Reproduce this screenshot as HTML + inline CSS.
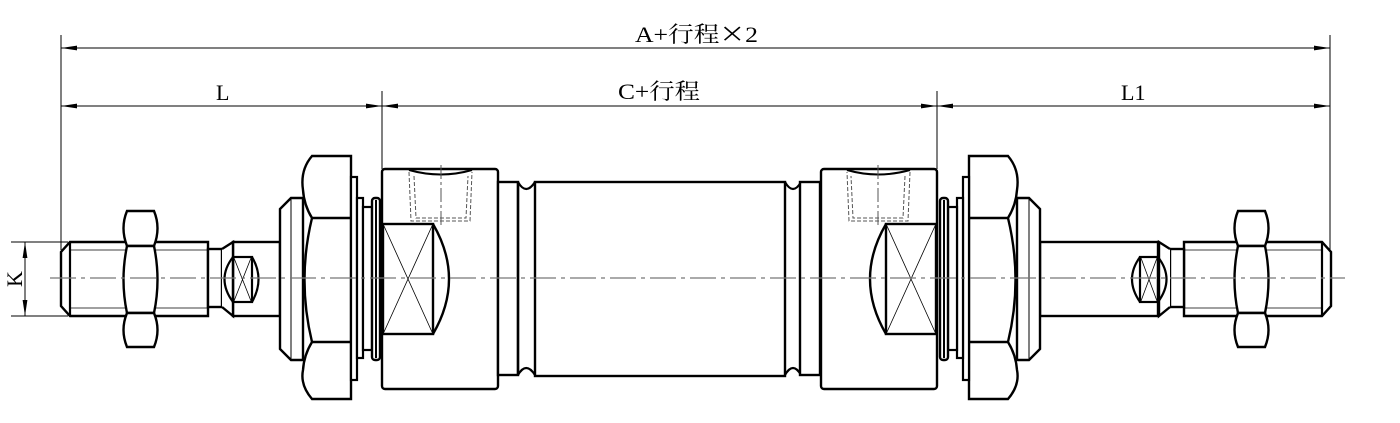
<!DOCTYPE html>
<html><head><meta charset="utf-8"><style>html,body{margin:0;padding:0;background:#fff}svg{display:block}</style></head>
<body>
<svg width="1400" height="423" viewBox="0 0 1400 423" xmlns="http://www.w3.org/2000/svg">
<defs>
<marker id="a" viewBox="0 0 16 6" refX="16" refY="3" markerWidth="16" markerHeight="6" markerUnits="userSpaceOnUse" orient="auto-start-reverse"><path d="M0,0.6 L16,3 L0,5.4Z" fill="#000"/></marker>
<g id="mount">
 <path d="M291,198 L303,198 L303,360 L291,360 L280,349 L280,209 Z" fill="#fff" stroke="#000" stroke-width="2.4"/>
 <line x1="291" y1="198" x2="291" y2="360" stroke="#000" stroke-width="1"/>
 <path d="M312,156 L351,156 L351,399 L312,399 Q300,385 303,370 Q304,355 312,342 Q297,280 312,218 Q304,205 303,190 Q300,170 312,156 Z" fill="#fff" stroke="#000" stroke-width="2.4"/>
 <line x1="312" y1="218" x2="351" y2="218" stroke="#000" stroke-width="2.4"/>
 <line x1="312" y1="342" x2="351" y2="342" stroke="#000" stroke-width="2.4"/>
 <rect x="351" y="177" width="6" height="203" fill="#fff" stroke="#000" stroke-width="2.2"/>
 <rect x="357" y="198" width="6" height="160" fill="#fff" stroke="#000" stroke-width="2.2"/>
 <rect x="363" y="207" width="9" height="143" fill="#fff" stroke="#000" stroke-width="2.2"/>
 <rect x="372" y="198" width="8" height="162" rx="3" fill="#fff" stroke="#000" stroke-width="2.4"/>
 <line x1="376" y1="200" x2="376" y2="358" stroke="#000" stroke-width="2"/>
</g>
<g id="cap">
 <rect x="382" y="169" width="116" height="220" rx="3" fill="#fff" stroke="#000" stroke-width="2.4"/>
 <path d="M409,170 Q441,179 472,170" fill="none" stroke="#000" stroke-width="2"/>
 <path d="M409,172 L411,221 L470,221 L472,172 M414,176 L416,218 L466,218 L468,176" fill="none" stroke="#555" stroke-width="1" stroke-dasharray="4,2"/>
 <line x1="441" y1="165" x2="441" y2="225" stroke="#555" stroke-width="1" stroke-dasharray="14,3,3,3"/>
 <rect x="383" y="224" width="50" height="110" fill="none" stroke="#000" stroke-width="2.4"/>
 <path d="M433,224 Q465,279 433,334" fill="none" stroke="#000" stroke-width="2.4"/>
 <path d="M384,226 L432,332 M432,226 L384,332" stroke="#000" stroke-width="0.8"/>
</g>
<g id="tip">
 <path d="M70,242 L208,242 L208,316 L70,316 L61,306 L61,252 Z" fill="#fff" stroke="#000" stroke-width="2.4"/>
 <line x1="70" y1="242" x2="70" y2="316" stroke="#000" stroke-width="2.2"/>
 <line x1="70" y1="250" x2="208" y2="250" stroke="#000" stroke-width="0.8"/>
 <line x1="70" y1="308" x2="208" y2="308" stroke="#000" stroke-width="0.8"/>
 <path d="M127,211 L154,211 Q161,228 154,246 L127,246 Q120,228 127,211 Z" fill="#fff" stroke="#000" stroke-width="2.4"/>
 <path d="M127,246 L154,246 Q161,280 154,313 L127,313 Q120,280 127,246 Z" fill="#fff" stroke="#000" stroke-width="2.4"/>
 <path d="M127,313 L154,313 Q161,330 154,347 L127,347 Q120,330 127,313 Z" fill="#fff" stroke="#000" stroke-width="2.4"/>
 <rect x="208" y="249" width="14" height="58" fill="#fff" stroke="#000" stroke-width="2.4"/>
 <path d="M222,249 L233,242 L233,316 L222,307" fill="#fff" stroke="#000" stroke-width="2.4"/>
</g>
</defs>

<!-- left rod -->
<rect x="233" y="242" width="47" height="74" fill="#fff" stroke="#000" stroke-width="2.4"/>
<use href="#tip"/>
<rect x="233" y="257" width="19" height="45" fill="none" stroke="#000" stroke-width="2.2"/>
<path d="M252,257 Q265,279 252,302 M233,257 Q216,279 233,302" fill="none" stroke="#000" stroke-width="2.2"/>
<path d="M234,258 L251,301 M251,258 L234,301" stroke="#000" stroke-width="0.8"/>
<use href="#mount"/>
<use href="#cap"/>

<!-- body -->
<rect x="498" y="182" width="20" height="193" fill="#fff" stroke="#000" stroke-width="2.4"/>
<path d="M518,182 Q526,196 535,182 M518,375 Q526,361 535,375" fill="none" stroke="#000" stroke-width="2.2"/>
<line x1="518" y1="182" x2="518" y2="375" stroke="#000" stroke-width="2.4"/>
<rect x="535" y="182" width="250" height="194" fill="#fff" stroke="#000" stroke-width="2.4"/>
<path d="M785,182 Q793,196 801,182 M785,375 Q793,361 801,375" fill="none" stroke="#000" stroke-width="2.2"/>
<rect x="800" y="182" width="20" height="193" fill="#fff" stroke="#000" stroke-width="2.4"/>

<!-- right side -->
<g transform="translate(1319,0) scale(-1,1)"><use href="#cap"/></g>
<rect x="1040" y="242" width="118" height="74" fill="#fff" stroke="#000" stroke-width="2.4"/>
<g transform="translate(1392,0) scale(-1,1)"><use href="#tip"/></g>
<rect x="1140" y="257" width="18" height="45" fill="none" stroke="#000" stroke-width="2.2"/>
<path d="M1140,257 Q1124,279 1140,302 M1158,257 Q1175,279 1158,302" fill="none" stroke="#000" stroke-width="2.2"/>
<path d="M1141,258 L1157,301 M1157,258 L1141,301" stroke="#000" stroke-width="0.8"/>
<g transform="translate(1320,0) scale(-1,1)"><use href="#mount"/></g>

<!-- centre line on top -->
<line x1="50" y1="278" x2="1345" y2="278" stroke="#777" stroke-width="1.3" stroke-dasharray="26,5,4,5"/>

<g stroke="#000" stroke-width="1">
 <line x1="61" y1="35" x2="61" y2="250"/>
 <line x1="382" y1="91" x2="382" y2="169"/>
 <line x1="937" y1="91" x2="937" y2="169"/>
 <line x1="1330" y1="35" x2="1330" y2="250"/>
 <line x1="11" y1="242" x2="68" y2="242"/>
 <line x1="11" y1="316" x2="68" y2="316"/>
</g>
<g stroke="#000" stroke-width="1" fill="none">
 <line x1="61" y1="48" x2="1330" y2="48" marker-start="url(#a)" marker-end="url(#a)"/>
 <line x1="61" y1="106" x2="382" y2="106" marker-start="url(#a)" marker-end="url(#a)"/>
 <line x1="382" y1="106" x2="937" y2="106" marker-start="url(#a)" marker-end="url(#a)"/>
 <line x1="937" y1="106" x2="1330" y2="106" marker-start="url(#a)" marker-end="url(#a)"/>
 <line x1="25" y1="242" x2="25" y2="316" marker-start="url(#a)" marker-end="url(#a)"/>
</g>
<g font-family="'Liberation Serif','Noto Serif CJK SC','Noto Sans CJK SC',serif" font-size="22" fill="#000">
 <text x="635" y="42" textLength="123" lengthAdjust="spacingAndGlyphs">A+行程<tspan font-family="'Noto Sans CJK SC',sans-serif">×</tspan>2</text>
 <text x="216" y="100">L</text>
 <text x="618" y="99" textLength="82" lengthAdjust="spacingAndGlyphs">C+行程</text>
 <text x="1121" y="100">L1</text>
 <text transform="translate(22,287) rotate(-90)">K</text>
</g>
</svg>
</body></html>
